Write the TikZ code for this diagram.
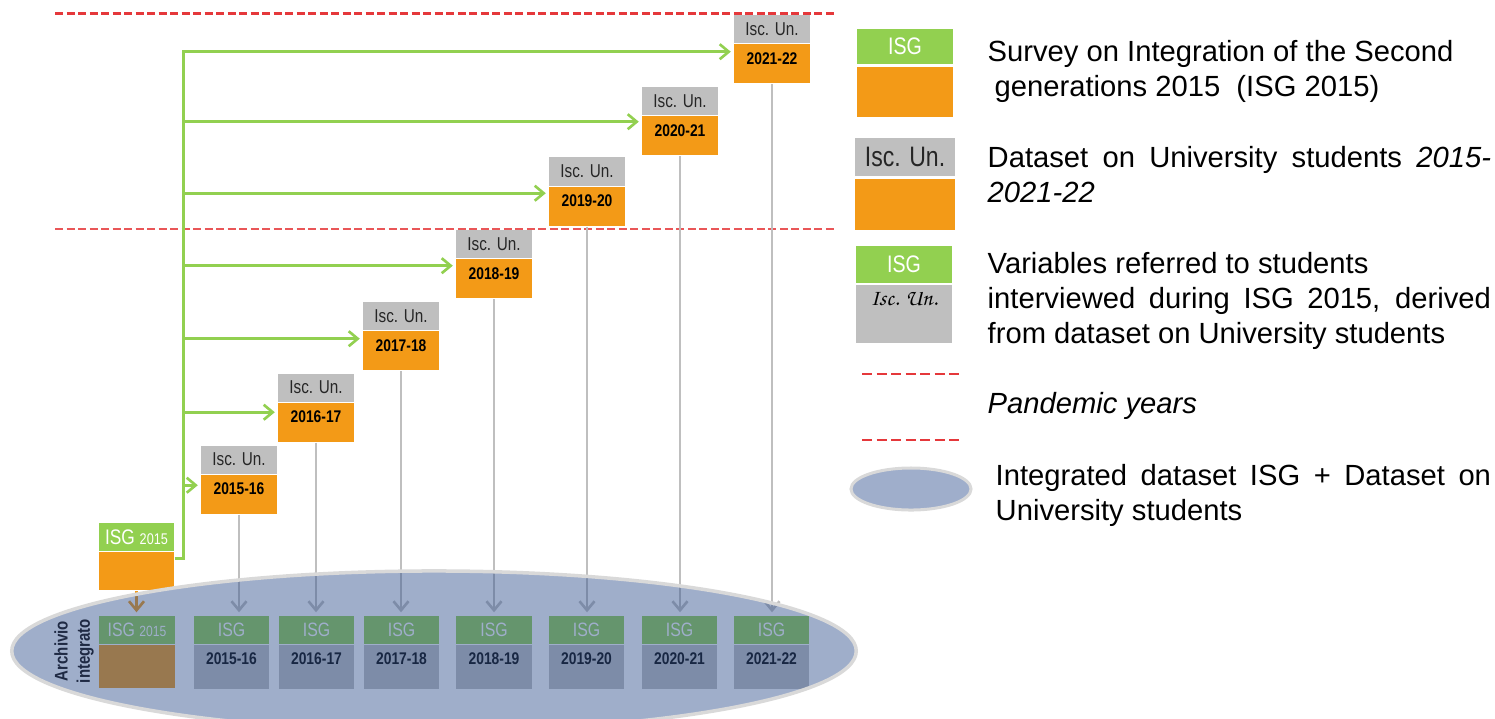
\documentclass[tikz,border=0pt]{standalone}
\usepackage{fontspec}
\setmainfont{Liberation Sans}
\newfontfamily\narrow[FakeStretch=0.82]{Liberation Sans}
\usetikzlibrary{positioning, arrows.meta, shapes.geometric}

\definecolor{isggreen}{HTML}{92D050}
\definecolor{isgorange}{HTML}{F39A17}
\definecolor{iscgray}{HTML}{BFBFBF}
\definecolor{pandred}{HTML}{E5383B}
\definecolor{veil}{HTML}{33538F}
\definecolor{archblue}{HTML}{9FAECB}
\definecolor{archtext}{HTML}{1F2A44}

\tikzset{
x=0.01cm, y=-0.01cm, % one unit is one pixel of the layout, y grows downwards
isc/.style={fill=iscgray, minimum width=0.75cm, minimum height=0.28cm, inner sep=0pt, text=black!85, font=\narrow\fontsize{5.3}{6}\selectfont}, % grey 'Isc. Un.' header
yearbox/.style={fill=isgorange, minimum width=0.75cm, inner xsep=0pt, inner ysep=0.08cm, text height=0.12cm, text depth=0.11cm, font=\narrow\bfseries\fontsize{4.8}{6}\selectfont}, % orange year box
isg/.style={fill=isggreen, minimum width=0.75cm, minimum height=0.28cm, inner sep=0pt, text=white, font=\narrow\fontsize{5.5}{6}\selectfont}, % green ISG header
merged/.style={fill=iscgray, minimum width=0.75cm, inner xsep=0pt, inner ysep=0.07cm, text height=0.12cm, text depth=0.18cm, font=\narrow\bfseries\fontsize{4.8}{6}\selectfont}, % derived variables
feed/.style={draw=isggreen, line width=0.75pt, shorten >=0.03cm, -{Straight Barb[length=0.9mm, width=1.5mm]}},
drop/.style={draw=iscgray, line width=0.75pt, shorten >=0.03cm, -{Straight Barb[length=0.9mm, width=1.5mm]}},
pandemic/.style={draw=pandred, dash pattern=on 0.08cm off 0.035cm},
legendtext/.style={anchor=base west, inner sep=0pt, text width=5.03cm, align=justify, font=\fontsize{8.3}{10}\selectfont},
}

\begin{document}
\begin{tikzpicture}
\useasboundingbox (0,0) rectangle (1495,718);

% pandemic years
\draw[pandemic, line width=0.9pt] (55,13.5) -- (835,13.5);
\draw[pandemic, line width=0.6pt, draw=pandred!85] (55,229) -- (835,229);

% ISG 2015 survey
\node[isg, font=\narrow\fontsize{6}{7}\selectfont] (isg15) at (136.5,537) {ISG {\fontsize{4.4}{5}\selectfont 2015}};
\node[fill=isgorange, minimum width=0.75cm, minimum height=0.38cm, below=0pt of isg15] (isg15o) {};

% university students, one extract per academic year
\node[isc] (isc1516) at (239,459.5) {Isc. Un.};
\node[yearbox, below=0pt of isc1516] (yr1516) {2015-16};
\node[isc] (isc1617) at (316,387.5) {Isc. Un.};
\node[yearbox, below=0pt of isc1617] (yr1617) {2016-17};
\node[isc] (isc1718) at (401,316) {Isc. Un.};
\node[yearbox, below=0pt of isc1718] (yr1718) {2017-18};
\node[isc] (isc1819) at (494,244) {Isc. Un.};
\node[yearbox, below=0pt of isc1819] (yr1819) {2018-19};
\node[isc] (isc1920) at (587,171.5) {Isc. Un.};
\node[yearbox, below=0pt of isc1920] (yr1920) {2019-20};
\node[isc] (isc2021) at (680,101) {Isc. Un.};
\node[yearbox, below=0pt of isc2021] (yr2021) {2020-21};
\node[isc] (isc2122) at (772,29) {Isc. Un.};
\node[yearbox, below=0pt of isc2122] (yr2122) {2021-22};

% integrated archive
\node[isg] (isg15b) at (137,630) {ISG {\fontsize{4.2}{5}\selectfont 2015}};
\node[fill=isgorange, minimum width=0.75cm, minimum height=0.43cm, below=0pt of isg15b] (arc15) {};
\node[isg] (isg1516) at (231.5,630) {ISG};
\node[merged, below=0pt of isg1516] (arc1516) {2015-16};
\node[isg] (isg1617) at (316.5,630) {ISG};
\node[merged, below=0pt of isg1617] (arc1617) {2016-17};
\node[isg] (isg1718) at (401.5,630) {ISG};
\node[merged, below=0pt of isg1718] (arc1718) {2017-18};
\node[isg] (isg1819) at (494,630) {ISG};
\node[merged, below=0pt of isg1819] (arc1819) {2018-19};
\node[isg] (isg1920) at (586.5,630) {ISG};
\node[merged, below=0pt of isg1920] (arc1920) {2019-20};
\node[isg] (isg2021) at (679.5,630) {ISG};
\node[merged, below=0pt of isg2021] (arc2021) {2020-21};
\node[isg] (isg2122) at (771.5,630) {ISG};
\node[merged, below=0pt of isg2122] (arc2122) {2021-22};

% green feed from ISG 2015 to every year
\coordinate (spine) at (183.5,557);
\coordinate (in1516) at ([yshift=-0.11cm]yr1516.north west);
\coordinate (in1617) at ([yshift=-0.1cm]yr1617.north west);
\coordinate (in1718) at ([yshift=-0.08cm]yr1718.north west);
\coordinate (in1819) at ([yshift=-0.07cm]yr1819.north west);
\coordinate (in1920) at ([yshift=-0.07cm]yr1920.north west);
\coordinate (in2021) at ([yshift=-0.06cm]yr2021.north west);
\coordinate (in2122) at ([yshift=-0.08cm]yr2122.north west);
\draw[feed] ([yshift=0.13cm]isg15o.east) -| (spine |- in2122) -- (in2122);
\draw (spine |- in1516) edge[feed] (in1516)
(spine |- in1617) edge[feed] (in1617)
(spine |- in1718) edge[feed] (in1718)
(spine |- in1819) edge[feed] (in1819)
(spine |- in1920) edge[feed] (in1920)
(spine |- in2021) edge[feed] (in2021);

% each extract goes down into the archive
\draw[drop, draw=isgorange] (isg15o.south) -- (isg15o.south |- isg15b.north);
\draw (yr1516.south) edge[drop] (yr1516.south |- isg1516.north)
(yr1617.south) edge[drop] (yr1617.south |- isg1617.north)
(yr1718.south) edge[drop] (yr1718.south |- isg1718.north)
(yr1819.south) edge[drop] (yr1819.south |- isg1819.north)
(yr1920.south) edge[drop] (yr1920.south |- isg1920.north)
(yr2021.south) edge[drop] (yr2021.south |- isg2021.north)
(yr2122.south) edge[drop] (yr2122.south |- isg2122.north);

% the archive ellipse lies over its boxes
\node[ellipse, minimum width=8.44cm, minimum height=1.6cm, inner sep=0pt, fill=veil, fill opacity=0.47, draw=black!15, line width=0.035cm] (archive) at (434,651) {};
\node[rotate=90, align=center, inner sep=0pt, text=archtext, font=\narrow\bfseries\fontsize{5.2}{6.3}\selectfont] (archlabel) at (74,651) {Archivio\\integrato};

% legend
\node[isg, minimum width=0.96cm, minimum height=0.355cm, font=\narrow\fontsize{6.8}{8}\selectfont] (keyisg) at (905,46.5) {ISG};
\node[fill=isgorange, minimum width=0.96cm, minimum height=0.50cm, below=0.015cm of keyisg] (keyorg) {};
\node[isc, minimum width=0.99cm, minimum height=0.38cm, font=\narrow\fontsize{8}{9}\selectfont] (keyisc) at (905,157) {Isc. Un.};
\node[fill=isgorange, minimum width=0.99cm, minimum height=0.51cm, below=0.015cm of keyisc] (keyorg2) {};
\node[isg, minimum width=0.96cm, minimum height=0.37cm, font=\narrow\fontsize{6.8}{8}\selectfont] (keyisg2) at (904,264.5) {ISG};
\node[fill=iscgray, minimum width=0.96cm, inner xsep=0pt, inner ysep=0.1cm, text height=0.1cm, text depth=0.28cm, below=0.01cm of keyisg2, font=\usefont{OT1}{pzc}{mb}{it}\fontsize{6.5}{7}\selectfont] (keymerged) {Isc. Un.};
\draw[pandemic, line width=0.5pt, dash pattern=on 0.1cm off 0.045cm] (862,374) -- (963,374);
\draw[pandemic, line width=0.5pt, dash pattern=on 0.1cm off 0.045cm] (862,440) -- (963,440);
\node[ellipse, minimum width=1.2cm, minimum height=0.42cm, inner sep=0pt, fill=archblue, draw=black!15, line width=0.03cm] (keyarch) at (911,489) {};

\node[legendtext] (txtisg) at (987,61) {Survey on Integration of the Second\newline\hspace*{0.07cm}generations 2015~~(ISG 2015)};
\node[legendtext] (txtisc) at (987,167) {Dataset on University students \textit{2015-}\linebreak\textit{2021-22}};
\node[legendtext] (txtmerged) at (987,273) {Variables referred to students\newline interviewed during ISG 2015, derived\linebreak from dataset on University students};
\node[legendtext] (txtpandemic) at (987,413) {\textit{Pandemic years}};
\node[legendtext, text width=4.95cm] (txtarch) at (995,485) {Integrated dataset ISG + Dataset on\linebreak University students};
\end{tikzpicture}
\end{document}
